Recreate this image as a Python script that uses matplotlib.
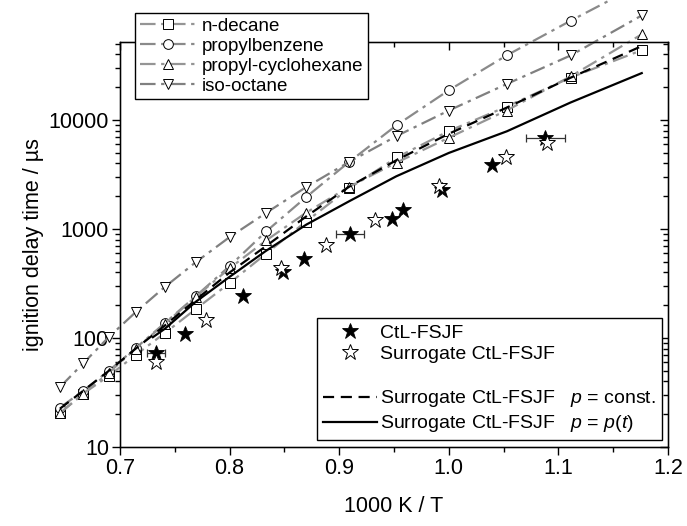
import numpy as np
import matplotlib
matplotlib.use("Agg")
import matplotlib.pyplot as plt
from matplotlib.lines import Line2D
from matplotlib.ticker import LogLocator, MultipleLocator, FixedLocator

plt.rcParams['font.family'] = ['Liberation Sans', 'DejaVu Sans']
plt.rcParams['mathtext.fontset'] = 'custom'
plt.rcParams['mathtext.it'] = 'Liberation Sans:italic'
plt.rcParams['mathtext.rm'] = 'Liberation Sans'

# simulation temperatures 1550 K ... 850 K as 1000 K / T
T_sim = np.arange(1550, 849, -50)
x_sim = 1000.0 / T_sim

# model species (simulated ignition delay, us)
n_decane = [20.5, 31, 45, 70, 111, 185, 320, 596, 1170, 2370, 4540, 7940, 13300, 24600, 44000]
propylbenzene = [23, 33, 50, 81, 137, 243, 458, 952, 1958, 4140, 8990, 18800, 39200, 81600, 180000]
propyl_cyclohexane = [20.5, 31, 48, 80, 135, 240, 438, 788, 1410, 2450, 4080, 6900, 12250, 25200, 61600]
iso_octane = [35.5, 59, 102, 173, 294, 498, 845, 1410, 2420, 4140, 7150, 12250, 21400, 39200, 91800]

# surrogate model curves
p_const = [22.5, 33, 50, 80, 130, 225, 400, 700, 1300, 2450, 4300, 7500, 13000, 24500, 48000]
x_pt = [0.73, 0.741, 0.769, 0.8, 0.833, 0.870, 0.909, 0.952, 1.0, 1.053, 1.111, 1.176]
p_t = [102, 122, 215, 365, 630, 1100, 1800, 3050, 5000, 7900, 14500, 27000]

# shock tube experiments
ctl_x = [0.733, 0.759, 0.8125, 0.849, 0.868, 0.910, 0.948, 0.958, 0.994, 1.039, 1.088]
ctl_y = [73.5, 109, 244, 400, 530, 900, 1240, 1510, 2300, 3860, 6900]
sur_x = [0.733, 0.778, 0.847, 0.888, 0.933, 0.991, 1.052, 1.090]
sur_y = [61, 146, 438, 710, 1225, 2465, 4540, 6210]

# x error bars on a few CtL-FSJF points
err_x = [0.733, 0.910, 1.088]
err_y = [73.5, 900, 6900]
err_dx = [0.008, 0.0125, 0.0177]

fig = plt.figure(figsize=(6.87, 5.26), dpi=100)
ax = fig.add_axes([0.1747, 0.150, 0.7977, 0.770])

dd = (0, (7, 2.5, 1.5, 2.5))
species = [(n_decane, 's', 'n-decane', '#959595'),
           (propylbenzene, 'o', 'propylbenzene', '#8a8a8a'),
           (propyl_cyclohexane, '^', 'propyl-cyclohexane', '#959595'),
           (iso_octane, 'v', 'iso-octane', '#808080')]
handles1 = []
for vals, mk, lab, col in species:
    h, = ax.plot(x_sim, vals, color=col, linestyle=dd, lw=1.6, marker=mk,
                 ms=7, mfc='white', mec='black', mew=0.7, clip_on=False,
                 label=lab, zorder=3)
    handles1.append(h)

h_const, = ax.plot(x_sim, p_const, color='black', linestyle=(0, (5, 3)), lw=1.6,
                   clip_on=False, zorder=4)
h_t, = ax.plot(x_pt, p_t, color='black', linestyle='-', lw=1.6,
               clip_on=False, zorder=4)

ax.errorbar(err_x, err_y, xerr=err_dx, fmt='none', ecolor='#333333',
            elinewidth=0.9, capsize=3, capthick=0.9, zorder=4)
h_ctl, = ax.plot(ctl_x, ctl_y, linestyle='none', marker='*', ms=12,
                 mfc='black', mec='black', mew=0.6, zorder=5)
h_sur, = ax.plot(sur_x, sur_y, linestyle='none', marker='*', ms=12,
                 mfc='white', mec='black', mew=0.7, zorder=5)

ax.set_yscale('log')
ax.set_xlim(0.7, 1.2)
ax.set_ylim(10, 52000)
ax.xaxis.set_major_locator(FixedLocator([0.7, 0.8, 0.9, 1.0, 1.1, 1.2]))
ax.xaxis.set_minor_locator(MultipleLocator(0.05))
ax.set_xticklabels(['0.7', '0.8', '0.9', '1.0', '1.1', '1.2'])
ax.yaxis.set_major_locator(FixedLocator([10, 100, 1000, 10000]))
ax.set_yticklabels(['10', '100', '1000', '10000'])
ax.yaxis.set_minor_locator(LogLocator(base=10, subs=np.arange(2, 10)))
ax.yaxis.set_minor_formatter(plt.NullFormatter())

ax.tick_params(which='both', direction='out', labelsize=15.5, width=1.0,
               top=False, right=False, pad=2)
ax.tick_params(which='major', length=6)
ax.tick_params(which='minor', length=3.5)
for sp in ax.spines.values():
    sp.set_linewidth(1.0)

# inward ticks on top and right
axt = ax.twiny()
axt.set_xlim(ax.get_xlim())
axt.xaxis.set_major_locator(FixedLocator([0.7, 0.8, 0.9, 1.0, 1.1, 1.2]))
axt.xaxis.set_minor_locator(MultipleLocator(0.05))
axt.tick_params(which='both', direction='in', labeltop=False, width=1.0)
axt.tick_params(which='major', length=6)
axt.tick_params(which='minor', length=3.5)
axr = ax.twinx()
axr.set_yscale('log')
axr.set_ylim(ax.get_ylim())
axr.yaxis.set_major_locator(FixedLocator([10, 100, 1000, 10000]))
axr.yaxis.set_minor_locator(LogLocator(base=10, subs=np.arange(2, 10)))
axr.tick_params(which='both', direction='in', labelright=False, width=1.0)
axr.tick_params(which='major', length=6)
axr.tick_params(which='minor', length=3.5)
axr.yaxis.set_minor_formatter(plt.NullFormatter())

ax.set_xlabel('1000 K / T', fontsize=15.5, labelpad=12)
ax.set_ylabel('ignition delay time / \u00b5s', fontsize=15.5, labelpad=3)

leg1 = axr.legend(handles=handles1, loc='upper left', bbox_to_anchor=(0.027, 1.072),
                  borderaxespad=0, fontsize=13.5, frameon=True, fancybox=False,
                  edgecolor='black', framealpha=1, handlelength=3.0,
                  handletextpad=0.3, labelspacing=0.15, borderpad=0.25)
leg1.get_frame().set_linewidth(1.0)
leg1.set_zorder(10)

blank = Line2D([], [], linestyle='none')
handles2 = [h_ctl, h_sur, blank, h_const, h_t]
labels2 = ['CtL-FSJF', 'Surrogate CtL-FSJF', ' ',
           'Surrogate CtL-FSJF   $p$ = const.',
           'Surrogate CtL-FSJF   $p$ = $p$($t$)']
leg2 = axr.legend(handles=handles2, labels=labels2, loc='lower right',
                  bbox_to_anchor=(0.989, 0.017), borderaxespad=0, fontsize=14,
                  frameon=True, fancybox=False, edgecolor='black', framealpha=1,
                  handlelength=2.8, handletextpad=0.15, labelspacing=0.2,
                  borderpad=0.3)
leg2.get_frame().set_linewidth(1.0)
axr.add_artist(leg1)

fig.savefig('out.png', dpi=100)
